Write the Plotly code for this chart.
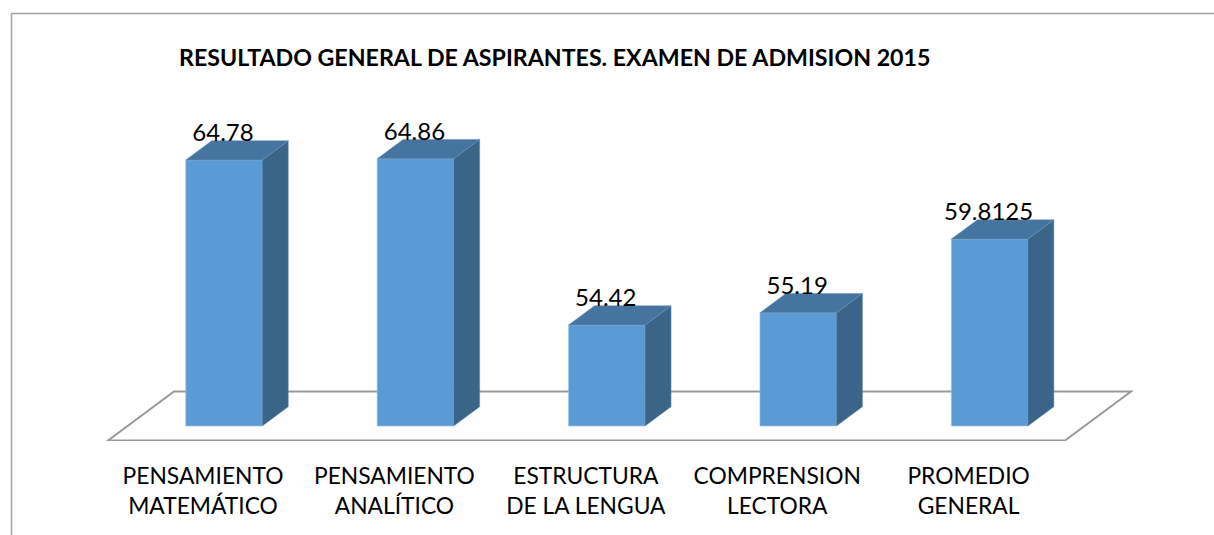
import numpy as np
import plotly.graph_objects as go

# Data
categories = ["PENSAMIENTO<br>MATEMÁTICO", "PENSAMIENTO<br>ANALÍTICO", "ESTRUCTURA<br>DE LA LENGUA",
              "COMPRENSION<br>LECTORA", "PROMEDIO<br>GENERAL"]
values = [64.78, 64.86, 54.42, 55.19, 59.8125]
value_labels = ["64.78", "64.86", "54.42", "55.19", "59.8125"]
title_text = "<b>RESULTADO GENERAL DE ASPIRANTES. EXAMEN DE ADMISION 2015</b>"

# Layout geometry (page pixels)
W, H = 1214, 535
CAT_STEP = 191.4
CAT0 = 203.0
PX_PER_UNIT = 15.93
BASE = 48.08
BASE_PX = 426.0
AXIS_BOTTOM_PX = 441.0

to_x = lambda px: px / CAT_STEP
to_y = lambda px: px / PX_PER_UNIT
BAR_SHIFT = to_x(21.0)
BAR_W = to_x(76.5)
DX = to_x(26.0)
DY = to_y(19.3)

idx = np.arange(len(values))
vals = np.array(values)
xc = idx + BAR_SHIFT
xl, xr = xc - BAR_W / 2, xc + BAR_W / 2

x_range = [-CAT0 / CAT_STEP, (W - CAT0) / CAT_STEP]
y_range = [BASE - to_y(AXIS_BOTTOM_PX - BASE_PX), BASE + to_y(BASE_PX)]

fig = go.Figure()

fig.add_trace(go.Bar(
    x=xc, y=vals - BASE, base=BASE, width=BAR_W,
    marker=dict(color="#5b9bd5", line=dict(color="#9cc3e6", width=0.6)),
    hoverinfo="skip", showlegend=False,
))


def polys(xs, ys):
    out_x, out_y = [], []
    for px, py in zip(xs, ys):
        out_x += list(px) + [px[0], None]
        out_y += list(py) + [py[0], None]
    return out_x, out_y


sx, sy = polys([[r, r, r + DX, r + DX] for r in xr],
               [[BASE, v, v + DY, BASE + DY] for v in vals])
fig.add_trace(go.Scatter(x=sx, y=sy, mode="lines", fill="toself", fillcolor="#3a6488",
                         line=dict(color="#5f88ab", width=0.5), hoverinfo="skip", showlegend=False))
tx, ty = polys([[l, r, r + DX, l + DX] for l, r in zip(xl, xr)],
               [[v, v, v + DY, v + DY] for v in vals])
fig.add_trace(go.Scatter(x=tx, y=ty, mode="lines", fill="toself", fillcolor="#44749f",
                         line=dict(color="#6a93b8", width=0.5), hoverinfo="skip", showlegend=False))

fig.add_trace(go.Scatter(
    x=xc - to_x(1.0), y=vals + DY - to_y(6.5), mode="text", text=value_labels, textposition="top center",
    textfont=dict(family="Lato", size=24, color="#000000"), hoverinfo="skip", showlegend=False,
))

# Floor of the 3D plot, behind the bars
f_front = BASE - to_y(14.5)
f_back = BASE + to_y(34.5)
f_x0 = -to_x(CAT0 - 108)
f_x1 = to_x(1065 - CAT0)
f_dx = to_x(66)
shapes = [
    dict(type="path", layer="below", xref="x", yref="y",
         path=f"M {f_x0} {f_front} L {f_x0 + f_dx} {f_back} L {f_x1 + f_dx} {f_back} L {f_x1} {f_front} Z",
         line=dict(color="#999999", width=2), fillcolor="white"),
    dict(type="line", xref="paper", yref="paper", x0=11.5 / W, x1=1, y0=1 - 13.5 / H, y1=1 - 13.5 / H,
         line=dict(color="#a0a0a0", width=1.6)),
    dict(type="line", xref="paper", yref="paper", x0=11.5 / W, x1=11.5 / W, y0=0, y1=1 - 13.5 / H,
         line=dict(color="#a8a8a8", width=1.6)),
]

fig.update_layout(
    width=W, height=H,
    margin=dict(l=0, r=0, t=0, b=0, autoexpand=False),
    paper_bgcolor="white", plot_bgcolor="white",
    showlegend=False,
    shapes=shapes,
    title=dict(text=title_text, x=179 / W, xanchor="left", xref="paper",
               y=1 - 58 / H, yanchor="middle", yref="paper",
               font=dict(family="Lato", size=23.2, color="#000000")),
    xaxis=dict(range=x_range, tickmode="array", tickvals=idx, ticktext=categories,
               showgrid=False, zeroline=False, showline=False, ticks="outside",
               ticklen=15, tickcolor="rgba(0,0,0,0)",
               tickfont=dict(family="Lato", size=22.8, color="#000000")),
    yaxis=dict(range=y_range, domain=[(H - AXIS_BOTTOM_PX) / H, 1], visible=False),
)

fig.write_html("out.html", config=dict(displayModeBar=False),
               post_script="document.body.style.margin='0';document.body.style.overflow='hidden';")
